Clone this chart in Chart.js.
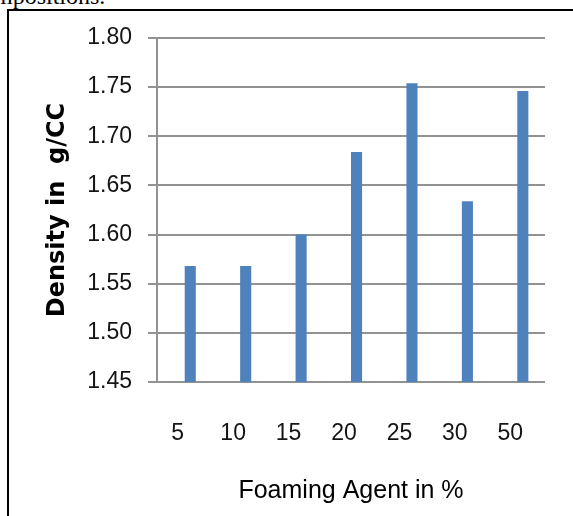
<!DOCTYPE html>
<html>
<head>
<meta charset="utf-8">
<script src="https://cdn.jsdelivr.net/npm/chart.js@4"></script>
<style>
  html, body { margin: 0; padding: 0; background: #fff; }
  body { width: 573px; height: 516px; position: relative; overflow: hidden; }
  #caption {
    position: absolute; left: -6px; top: -16px;
    font: 24px/24px "Liberation Serif", serif; color: #000; white-space: nowrap;
  }
  #frame {
    position: absolute; left: 7px; top: 9px; width: 600px; height: 540px;
    border-left: 2px solid #000; border-top: 2px solid #000;
  }
  #chart { position: absolute; left: 0; top: 0; }
</style>
</head>
<body>
<div id="caption">mpositions.</div>
<div id="frame"></div>
<canvas id="chart" width="573" height="516"></canvas>
<script>
// Foaming agent content (%) on the x axis
const foamingAgent = ['5', '10', '15', '20', '25', '30', '50'];
// Measured density (g/CC) for each mix
const density = [1.568, 1.568, 1.600, 1.684, 1.754, 1.634, 1.746];
// Empty leading series: keeps the left half of each cluster free
const emptySlot = [null, null, null, null, null, null, null];
// Density axis ticks
const densityTicks = [1.45, 1.50, 1.55, 1.60, 1.65, 1.70, 1.75, 1.80];

const gridGrey = '#929292';
const textDark = '#141414';
const sans = '"Liberation Sans", Arial, sans-serif';

new Chart(document.getElementById('chart'), {
  type: 'bar',
  data: {
    labels: foamingAgent,
    datasets: [
      { label: 'blank', data: emptySlot, backgroundColor: 'rgba(0,0,0,0)' },
      { label: 'Density', data: density, backgroundColor: '#4f81bd', borderWidth: 0 }
    ]
  },
  options: {
    responsive: false,
    animation: false,
    devicePixelRatio: 1,
    categoryPercentage: 0.4,
    barPercentage: 1.0,
    layout: { padding: { top: 38, right: 28, bottom: 0, left: 0 } },
    plugins: { legend: { display: false }, tooltip: { enabled: false } },
    scales: {
      x: {
        grid: { display: false, drawTicks: false },
        border: { display: false },
        ticks: {
          padding: 38,
          labelOffset: -7,
          color: textDark,
          font: { family: sans, size: 23 }
        },
        title: {
          display: true,
          text: 'Foaming Agent in %',
          color: '#000',
          padding: { top: 0, bottom: 10 },
          font: { family: sans, size: 25 }
        },
        afterFit: (axis) => { axis.height = 134; }
      },
      y: {
        min: 1.45,
        max: 1.80,
        afterBuildTicks: (axis) => { axis.ticks = densityTicks.map(v => ({ value: v })); },
        grid: { color: gridGrey, lineWidth: 2, tickLength: 9, tickColor: gridGrey },
        border: { display: true, color: gridGrey, width: 2 },
        ticks: {
          padding: 16,
          color: textDark,
          font: { family: sans, size: 23 },
          callback: (v) => Number(v).toFixed(2)
        },
        title: {
          display: true,
          text: 'Density in  g/CC',
          color: '#000',
          padding: { top: 43, bottom: 0 },
          font: { family: '"DejaVu Sans", sans-serif', size: 24, weight: 'bold' }
        },
        afterFit: (axis) => { axis.width = 157; }
      }
    }
  }
});
</script>
</body>
</html>
